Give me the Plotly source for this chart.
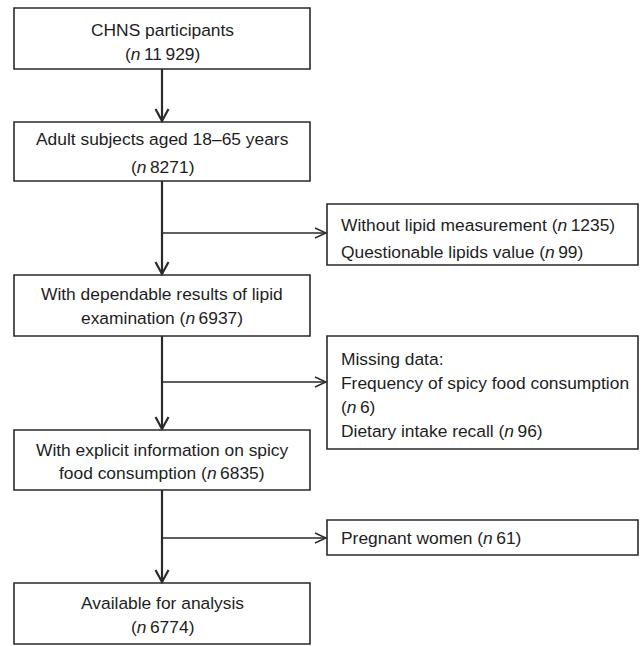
import plotly.graph_objects as go

# ---- data ----
stage_lines = [
    ["CHNS participants", "({n})"],
    ["Adult subjects aged 18–65 years", "({n})"],
    ["With dependable results of lipid", "examination ({n})"],
    ["With explicit information on spicy", "food consumption ({n})"],
    ["Available for analysis", "({n})"],
]
stage_n = [11929, 8271, 6937, 6835, 6774]

excl_lines = [
    ["Without lipid measurement ({n})", "Questionable lipids value ({n})"],
    ["Missing data:", "Frequency of spicy food consumption", "({n})", "Dietary intake recall ({n})"],
    ["Pregnant women ({n})"],
]
excl_n = [[1235, 99], [6, 96], [61]]

# ---- layout geometry (window pixels) ----
W, H = 643, 646
stage_box_y = [(8, 69), (122, 181), (275, 336), (430, 490), (583, 644)]
stage_text_y = [[30, 54], [139, 167], [294, 318], [449.5, 473], [603, 626.5]]
stage_x = (14, 310)
excl_box_y = [(204, 265), (336, 449), (520, 555)]
excl_text_y = [[225, 252], [359, 383, 407, 431], [538]]
excl_x = (327, 638)
branch_y = [233, 382, 538]
spine_x = 162

FONT = "Liberation Sans, Arial, Helvetica, sans-serif"
FS = 17.4
TXT = "#1e1e1e"
LINE = "#2a2a2a"


def fmt_n(v):
    s = f"{v:d}"
    if v >= 10000:
        s = f"{v // 1000}\u2009{v % 1000:03d}"
    return f"<i>n</i>\u2009{s}"


def fill(lines, counts):
    out, k = [], 0
    for ln in lines:
        if "{n}" in ln:
            ln = ln.replace("{n}", fmt_n(counts[k]))
            k += 1
        out.append(ln)
    return out


fig = go.Figure()
fig.add_trace(go.Scatter(x=[0, W], y=[0, H], mode="markers",
                         marker=dict(opacity=0), hoverinfo="skip", showlegend=False))

shapes = []
annotations = []

# stage boxes
for i, (lines, (y0, y1)) in enumerate(zip(stage_lines, stage_box_y)):
    shapes.append(dict(type="rect", x0=stage_x[0], x1=stage_x[1], y0=y0, y1=y1,
                       line=dict(color=LINE, width=1.6), fillcolor="white", layer="below"))
    txt = fill(lines, [stage_n[i]])
    for t, yy in zip(txt, stage_text_y[i]):
        annotations.append(dict(x=(stage_x[0] + stage_x[1]) / 2, y=yy, text=t, showarrow=False,
                                xanchor="center", yanchor="middle",
                                font=dict(family=FONT, size=FS, color=TXT)))

# exclusion boxes
for i, (lines, (y0, y1)) in enumerate(zip(excl_lines, excl_box_y)):
    shapes.append(dict(type="rect", x0=excl_x[0], x1=excl_x[1], y0=y0, y1=y1,
                       line=dict(color=LINE, width=1.6), fillcolor="white", layer="below"))
    txt = fill(lines, excl_n[i])
    for t, yy in zip(txt, excl_text_y[i]):
        annotations.append(dict(x=excl_x[0] + 12, y=yy, text=t, showarrow=False,
                                xanchor="left", yanchor="middle",
                                font=dict(family=FONT, size=FS, color=TXT)))

# vertical connectors with chevron arrowheads
for i in range(len(stage_box_y) - 1):
    ya = stage_box_y[i][1]
    yb = stage_box_y[i + 1][0]
    shapes.append(dict(type="line", x0=spine_x, x1=spine_x, y0=ya, y1=yb - 1,
                       line=dict(color=LINE, width=2.2)))
    shapes.append(dict(type="path",
                       path=f"M {spine_x - 6.5},{yb - 13} L {spine_x},{yb - 1} L {spine_x + 6.5},{yb - 13}",
                       line=dict(color=LINE, width=2.2)))

# horizontal branches
for by in branch_y:
    xe = excl_x[0]
    shapes.append(dict(type="line", x0=spine_x, x1=xe - 1, y0=by, y1=by,
                       line=dict(color=LINE, width=1.4)))
    shapes.append(dict(type="path",
                       path=f"M {xe - 12},{by - 5} L {xe - 1},{by} L {xe - 12},{by + 5}",
                       line=dict(color=LINE, width=1.4)))

fig.update_layout(
    width=W, height=H,
    margin=dict(l=0, r=0, t=0, b=0),
    paper_bgcolor="white", plot_bgcolor="white",
    xaxis=dict(range=[0, W], visible=False, fixedrange=True),
    yaxis=dict(range=[H, 0], visible=False, fixedrange=True),
    shapes=shapes, annotations=annotations,
    showlegend=False,
)

fig.write_html(
    "out.html", config={"displayModeBar": False},
    post_script=("document.documentElement.style.overflow='hidden';"
                 "document.body.style.margin='0';document.body.style.padding='0';"
                 "document.body.style.overflow='hidden';"))
